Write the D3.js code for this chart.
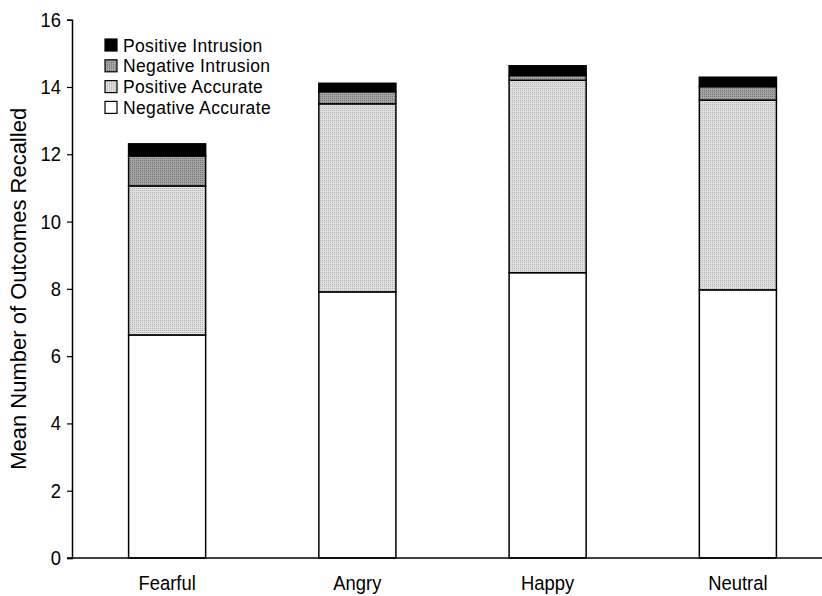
<!DOCTYPE html>
<html>
<head>
<meta charset="utf-8">
<script src="https://cdn.jsdelivr.net/npm/d3@7"></script>
<style>
  body { margin: 0; background: #fff; }
  svg { font-family: Arial, "Liberation Sans", sans-serif; }
</style>
</head>
<body>
<script>
// Data
const emotions = ["Fearful", "Angry", "Happy", "Neutral"];
const negativeAccurate = [6.63, 7.91, 8.48, 7.97];
const positiveAccurate = [4.43, 5.59, 5.72, 5.64];
const negativeIntrusion = [0.89, 0.36, 0.14, 0.40];
const positiveIntrusion = [0.36, 0.25, 0.29, 0.28];
const seriesNames = ["Negative Accurate", "Positive Accurate", "Negative Intrusion", "Positive Intrusion"];
const yTicks = [0, 2, 4, 6, 8, 10, 12, 14, 16];

function draw() {
    const width = 822, height = 596;
    const fontSize = 18.4,
          stretch = 1.1;   // glyphs in the original look a bit taller than wide

    const svg = d3.select("body")
        .append("svg")
        .attr("width", width)
        .attr("height", height);

    // Dotted fill patterns
    const defs = svg.append("defs");
    function addPattern(id, bg, dot) {
        const p = defs.append("pattern")
            .attr("id", id)
            .attr("width", 4).attr("height", 4)
            .attr("patternUnits", "userSpaceOnUse");
        p.append("rect").attr("width", 4).attr("height", 4).attr("fill", bg);
        [[0, 0], [2, 2], [2, 0], [0, 2]].forEach(c => {
            p.append("rect").attr("x", c[0]).attr("y", c[1])
                .attr("width", 1).attr("height", 1).attr("fill", dot);
        });
    }
    addPattern("posAcc", "#e0e0e0", "#b4b4b4");
    addPattern("negInt", "#a4a4a4", "#767676");

    const fills = {
        "Negative Accurate": "#ffffff",
        "Positive Accurate": "url(#posAcc)",
        "Negative Intrusion": "url(#negInt)",
        "Positive Intrusion": "#000000"
    };

    const table = emotions.map((e, i) => ({
        emotion: e,
        "Negative Accurate": negativeAccurate[i],
        "Positive Accurate": positiveAccurate[i],
        "Negative Intrusion": negativeIntrusion[i],
        "Positive Intrusion": positiveIntrusion[i]
    }));
    const stacked = d3.stack().keys(seriesNames)(table);

    // Scales
    const x = d3.scaleBand()
        .domain(emotions)
        .range([72, 833])
        .paddingInner(0.595)
        .paddingOuter(0.2975);

    const y = d3.scaleLinear()
        .domain([0, 16])
        .range([558, 19.7]);

    // Bars
    svg.append("g")
        .selectAll("g")
        .data(stacked)
        .enter().append("g")
        .attr("fill", d => fills[d.key])
        .selectAll("rect")
        .data(d => d)
        .enter().append("rect")
        .attr("x", d => x(d.data.emotion))
        .attr("y", d => y(d[1]))
        .attr("width", x.bandwidth())
        .attr("height", d => y(d[0]) - y(d[1]))
        .attr("stroke", "#000")
        .attr("stroke-width", 1.5);

    // Y axis
    const yAxis = d3.axisLeft(y)
        .tickValues(yTicks)
        .tickSize(5)
        .tickPadding(6);
    const gy = svg.append("g")
        .attr("transform", "translate(72,0)")
        .call(yAxis);
    gy.select(".domain").attr("stroke-width", 1.5);
    gy.selectAll(".tick line").attr("stroke-width", 1.2);
    gy.selectAll("text")
        .attr("font-size", fontSize)
        .attr("fill", "#000")
        .attr("font-family", "Arial, 'Liberation Sans', sans-serif")
        .attr("transform", "scale(1," + stretch + ")");

    // X axis
    svg.append("line")
        .attr("x1", 67).attr("x2", 822)
        .attr("y1", y(0)).attr("y2", y(0))
        .attr("stroke", "#000")
        .attr("stroke-width", 1.5);

    svg.append("g")
        .selectAll("text")
        .data(emotions)
        .enter().append("text")
        .attr("transform", d => "translate(" + (x(d) + x.bandwidth() / 2) + ",590) scale(1," + stretch + ")")
        .attr("text-anchor", "middle")
        .attr("font-size", fontSize)
        .text(d => d);

    // Axis title
    svg.append("text")
        .attr("transform", "translate(26," + ((y(0) + y(16)) / 2) + ") rotate(270)")
        .attr("text-anchor", "middle")
        .attr("font-size", 22)
        .text("Mean Number of Outcomes Recalled");

    // Legend
    const legend = svg.append("g")
        .attr("transform", "translate(105,45)")
        .selectAll("g")
        .data(seriesNames.slice().reverse())
        .enter().append("g")
        .attr("transform", (d, i) => "translate(0," + (i * 20.8) + ")");

    legend.append("rect")
        .attr("x", 0).attr("y", -6)
        .attr("width", 12).attr("height", 12)
        .attr("fill", d => fills[d])
        .attr("stroke", "#000")
        .attr("stroke-width", 1.2);

    legend.append("text")
        .attr("x", 18)
        .attr("y", 6.5)
        .attr("font-size", 17.5)
        .attr("letter-spacing", 0.35)
        .text(d => d);
}

draw();
</script>
</body>
</html>
